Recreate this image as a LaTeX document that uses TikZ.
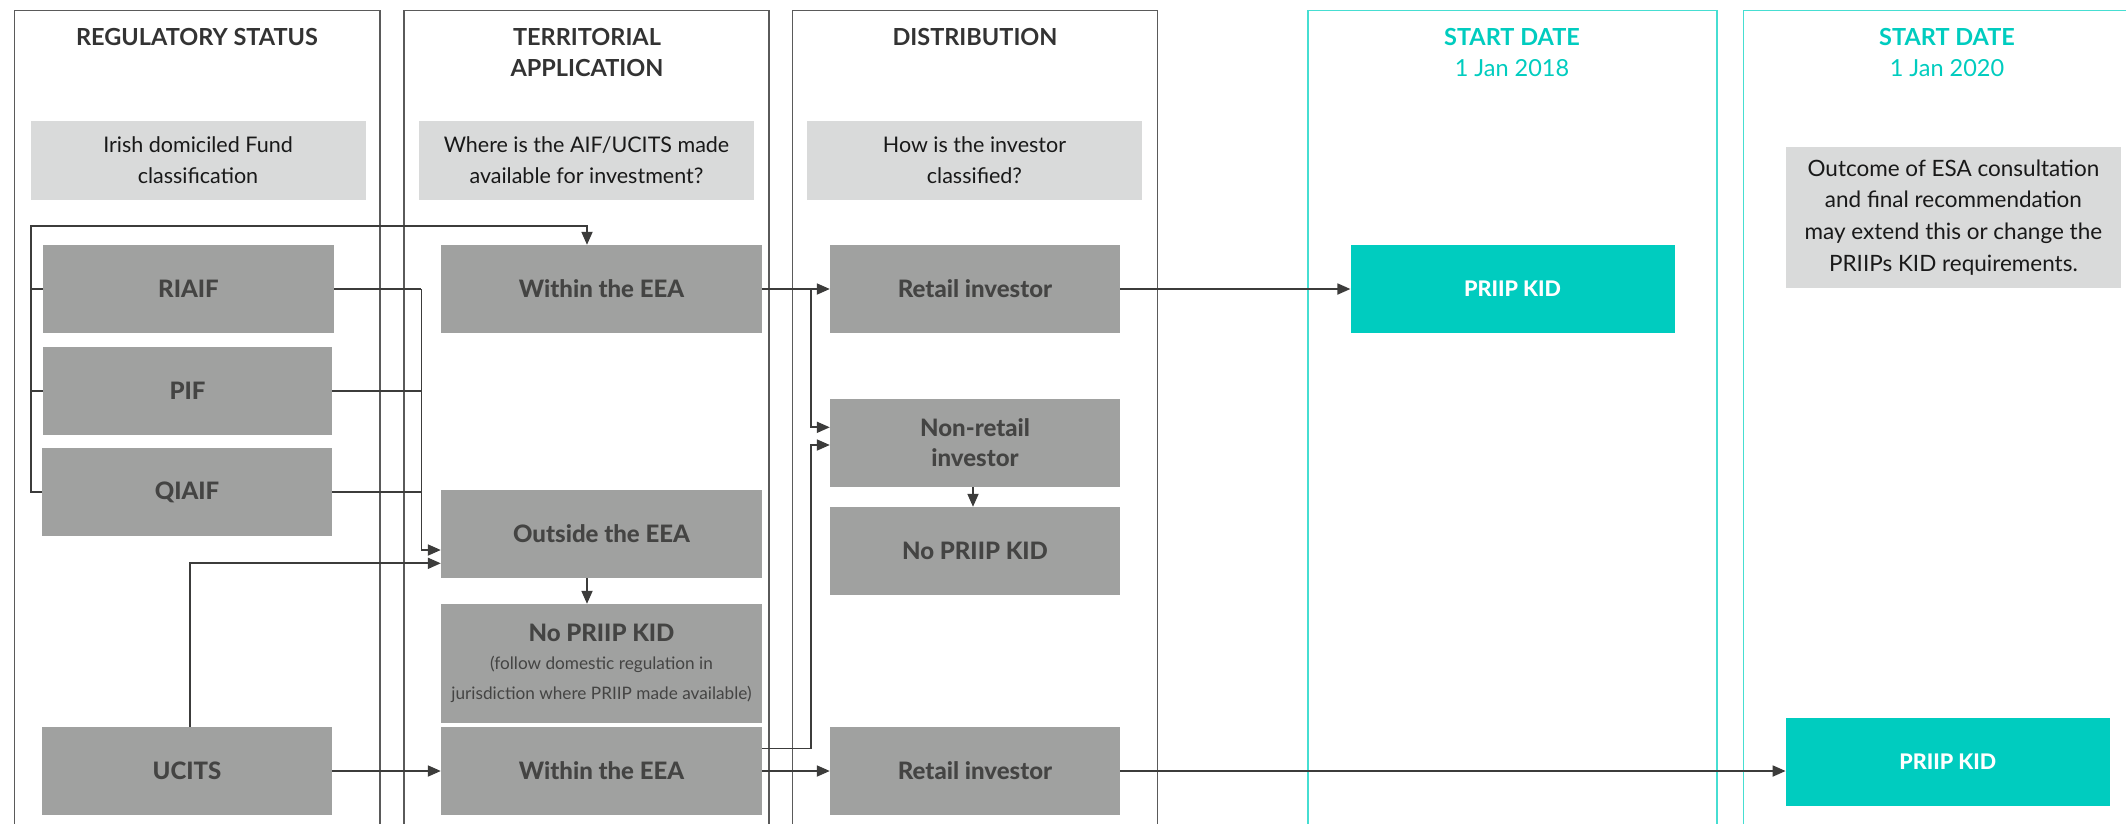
\documentclass[tikz,border=0pt]{standalone}
\usepackage{fontspec}
\setmainfont{Lato}
\newfontfamily\heavyfont{Lato Heavy}
\usetikzlibrary{arrows.meta,calc}
\definecolor{boxgray}{RGB}{160,161,160}
\definecolor{boxtext}{RGB}{68,68,67}
\definecolor{qgray}{RGB}{217,218,218}
\definecolor{qtext}{RGB}{25,25,25}
\definecolor{colborder}{RGB}{90,90,90}
\definecolor{headtext}{RGB}{51,51,51}
\definecolor{tealc}{RGB}{0,204,191}
\definecolor{teallight}{RGB}{70,222,210}
\definecolor{conncol}{RGB}{60,60,59}
\newcommand{\smalltxt}{\fontsize{17.2}{26}\selectfont\mdseries\normalfont}
\begin{document}
\begin{tikzpicture}[x=1pt,y=-1pt,
  gbox/.style={fill=boxgray, text=boxtext, font=\fontsize{24}{30}\selectfont\heavyfont, align=center, inner sep=0pt, minimum height=88pt},
  qbox/.style={fill=qgray, text=qtext, font=\fontsize{21.5}{31}\selectfont, align=center, inner sep=0pt, minimum height=79pt, minimum width=335pt},
  tbox/.style={fill=tealc, text=white, font=\fontsize{21.5}{28}\selectfont\heavyfont, inner sep=0pt, minimum width=324pt, minimum height=88pt},
  colbox/.style={draw=colborder, line width=1.4pt},
  tcolbox/.style={draw=teallight, line width=1.4pt},
  head/.style={text=headtext, font=\fontsize{23.5}{31.5}\selectfont\bfseries, align=center, inner sep=0pt},
  thead/.style={text=tealc, font=\fontsize{23.5}{31.5}\selectfont\bfseries, align=center, inner sep=0pt},
  conn/.style={draw=conncol, line width=1.8pt},
  arr/.style={conn, -{Triangle[length=13pt,width=11pt]}}
]
\useasboundingbox (0,0) rectangle (2126,823);
\clip (0,0) rectangle (2126,823);
\fill[white] (0,0) rectangle (2126,823);

% columns
\draw[colbox] (14.3,10.7) rectangle (380,840);
\draw[colbox] (404,10.7) rectangle (769,840);
\draw[colbox] (792.4,10.7) rectangle (1157.6,840);
\draw[tcolbox] (1308,10.7) rectangle (1716.8,840);
\draw[tcolbox] (1743.6,10.7) rectangle (2160,840);

% headers
\node[head] (h1) at (197,36.7) {REGULATORY STATUS};
\node[head] (h2) at (587,52.4) {TERRITORIAL\\APPLICATION};
\node[head] (h3) at (975,36.7) {DISTRIBUTION};
\node[thead] (h4) at (1512,52.4) {START DATE\\\mdseries 1 Jan 2018};
\node[thead] (h5) at (1947,52.4) {START DATE\\\mdseries 1 Jan 2020};

% question boxes
\node[qbox] (q1) at (198,160.5) {Irish domiciled Fund\\classification};
\node[qbox] (q2) at (586.5,160.5) {Where is the AIF/UCITS made\\available for investment?};
\node[qbox] (q3) at (974.5,160.5) {How is the investor\\classified?};
\node[qbox, minimum height=141pt, font=\fontsize{22.5}{31.7}\selectfont] (outc) at (1953.4,217.3) {Outcome of ESA consultation\\and final recommendation\\may extend this or change the\\PRIIPs KID requirements.};

% gray boxes
\node[gbox, minimum width=291pt] (riaif) at (188.5,289) {RIAIF};
\node[gbox, minimum width=289pt] (pif) at (187.5,391) {PIF};
\node[gbox, minimum width=290pt] (qiaif) at (187,492) {QIAIF};
\node[gbox, minimum width=290pt] (ucits) at (187,771) {UCITS};
\node[gbox, minimum width=321pt] (within1) at (601.5,289) {Within the EEA};
\node[gbox, minimum width=321pt] (outside) at (601.5,534) {Outside the EEA};
\node[gbox, minimum width=321pt, minimum height=119pt] (nokid1) at (601.5,663.5) {No PRIIP KID\\[-2pt]\smalltxt (follow domestic regulation in\\\smalltxt jurisdiction where PRIIP made available)};
\node[gbox, minimum width=321pt] (within2) at (601.5,771) {Within the EEA};
\node[gbox, minimum width=290pt] (retail1) at (975,289) {Retail investor};
\node[gbox, minimum width=290pt] (nonretail) at (975,443) {Non-retail\\investor};
\node[gbox, minimum width=290pt] (nokid2) at (975,551) {No PRIIP KID};
\node[gbox, minimum width=290pt] (retail2) at (975,771) {Retail investor};
\node[tbox] (kid1) at (1512.6,289) {PRIIP KID};
\node[tbox] (kid2) at (1947.8,762) {PRIIP KID};

% connectors
\coordinate (lt) at (30.6,225.7);
\coordinate (rt) at (587,225.7);
\coordinate (mv) at (421.4,550);
\coordinate (uc) at (190,563.3);
\coordinate (dv1) at (810.7,427.3);
\coordinate (dv2) at (810.7,445);

\draw[conn] (riaif.west) -- (riaif.west -| lt);
\draw[conn] (pif.west) -- (pif.west -| lt);
\draw[arr] (qiaif.west) -| (lt) -- (rt) -- (rt |- within1.north);

\draw[conn] (riaif.east) -- (riaif.east -| mv);
\draw[conn] (pif.east) -- (pif.east -| mv);
\draw[conn] (qiaif.east) -- (qiaif.east -| mv);
\draw[arr] (riaif.east -| mv) -- (mv) -- (mv -| outside.west);
\draw[arr] (uc |- ucits.north) -- (uc) -- (uc -| outside.west);

\draw[arr] (outside.south -| rt) -- (nokid1.north -| rt);
\draw[arr] (ucits.east) -- (within2.west);

\draw[arr] (within1.east) -- (retail1.west);
\draw[arr] (within1.east -| dv1) -- (dv1) -- (dv1 -| nonretail.west);
\draw[arr] ($(within2.east)+(0,-22.5)$) -| (dv2) -- (dv2 -| nonretail.west);
\draw[arr] (within2.east) -- (retail2.west);
\draw[arr] ([xshift=-2pt]nonretail.south) -- ([xshift=-2pt]nokid2.north);

\draw[arr] (retail1.east) -- (kid1.west);
\draw[arr] (retail2.east) -- (retail2.east -| kid2.west);
\end{tikzpicture}
\end{document}
